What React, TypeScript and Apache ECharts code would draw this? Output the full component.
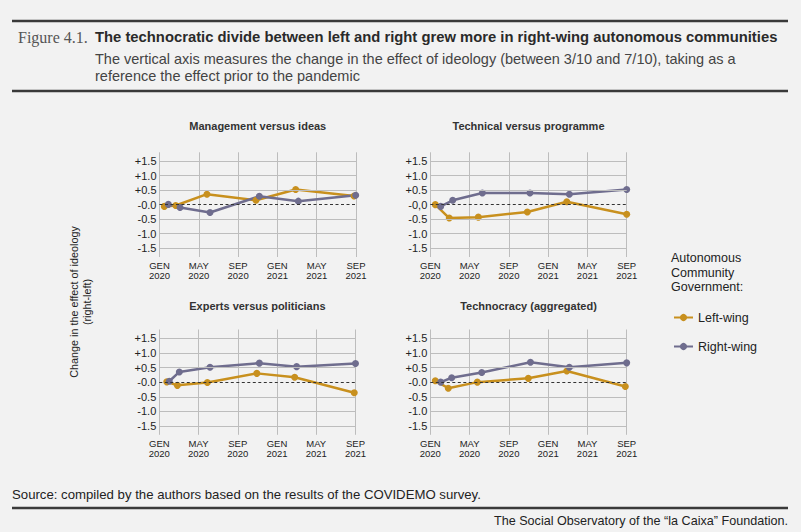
import React, { useEffect, useRef } from "react";
import * as echarts from "echarts";

// ---- data (x = months since January 2020, y = change in effect of ideology) ----
const panelTitles = [
  "Management versus ideas",
  "Technical versus programme",
  "Experts versus politicians",
  "Technocracy (aggregated)",
];

const leftWingX = [
  [0.49, 1.65, 4.83, 9.82, 13.86, 19.8],
  [0.51, 1.93, 4.89, 9.88, 13.9, 20.0],
  [0.76, 1.84, 4.9, 9.94, 13.8, 19.87],
  [0.51, 1.83, 4.79, 9.98, 13.9, 19.86],
];
const leftWingY = [
  [-0.06, -0.03, 0.36, 0.15, 0.52, 0.3],
  [0.0, -0.46, -0.43, -0.25, 0.1, -0.33],
  [0.01, -0.11, -0.01, 0.3, 0.17, -0.36],
  [0.05, -0.21, 0.0, 0.13, 0.38, -0.15],
];
const rightWingX = [
  [0.9, 2.09, 5.14, 10.16, 14.13, 19.97],
  [1.06, 2.28, 5.3, 10.15, 14.16, 20.0],
  [1.02, 2.04, 5.17, 10.2, 14.0, 20.0],
  [1.06, 2.18, 5.24, 10.2, 14.16, 20.0],
];
const rightWingY = [
  [0.01, -0.1, -0.27, 0.29, 0.12, 0.32],
  [-0.06, 0.15, 0.4, 0.4, 0.36, 0.52],
  [0.03, 0.35, 0.51, 0.65, 0.53, 0.64],
  [0.0, 0.15, 0.33, 0.68, 0.51, 0.66],
];

const xTickLabels = ["GEN\n2020", "MAY\n2020", "SEP\n2020", "GEN\n2021", "MAY\n2021", "SEP\n2021"];
const yTickValues = [-1.5, -1.0, -0.5, 0, 0.5, 1.0, 1.5];
const yTickLabels = [
  ["-1.5", "-1.0", "-0.5", "-0.0", "+0.5", "+1.0", "+1.5"],
  ["-1.5", "-1.0", "-0.5", "-0,0", "+0.5", "+1.0", "+1.5"],
  ["-1.5", "-1.0", "-0.5", "-0.0", "+0.5", "+1.0", "+1.5"],
  ["-1.5", "-1.0", "-0.5", "-0.0", "+0.5", "+1.0", "+1.5"],
];

// ---- layout ----
const LEFT_COLOR = "#c8901e";
const RIGHT_COLOR = "#6f6d8e";
const GRID_COLOR = "#bdbdbd";
const grids = [
  { left: 159.5, top: 152.3, width: 196.5, height: 104.7 },
  { left: 430.3, top: 152.3, width: 196.4, height: 104.7 },
  { left: 159.3, top: 329.5, width: 196.2, height: 105.3 },
  { left: 430.3, top: 329.5, width: 196.4, height: 105.3 },
];
const titleY = [126, 126, 306, 306];
const SANS = "'Liberation Sans', Arial, sans-serif";

export default function App() {
  const ref = useRef<HTMLDivElement>(null);

  useEffect(() => {
    if (!ref.current) return;
    const chart = echarts.init(ref.current, undefined, { renderer: "svg" });

    const xAxis: any[] = [];
    const yAxis: any[] = [];
    const series: any[] = [];
    const graphic: any[] = [];

    grids.forEach((g, i) => {
      xAxis.push({
        type: "value",
        gridIndex: i,
        min: 0,
        max: 20,
        interval: 4,
        axisLine: { show: false },
        axisTick: { show: false },
        splitLine: { show: true, lineStyle: { color: GRID_COLOR, width: 1 } },
        axisLabel: {
          margin: 4,
          fontSize: 9.5,
          lineHeight: 9.5,
          color: "#222",
          fontFamily: SANS,
          formatter: (v: number) => xTickLabels[Math.round(v / 4)] ?? "",
        },
      });
      yAxis.push({
        type: "value",
        gridIndex: i,
        min: -1.8,
        max: 1.8,
        axisLine: { show: false },
        axisTick: { show: false },
        splitLine: { show: false },
        axisLabel: {
          customValues: yTickValues,
          margin: 3,
          fontSize: 11,
          color: "#222",
          fontFamily: SANS,
          formatter: (v: number) => {
            const k = yTickValues.findIndex((t) => Math.abs(t - v) < 1e-6);
            return k >= 0 ? yTickLabels[i][k] : "";
          },
        },
      });
      // horizontal reference lines
      series.push({
        type: "line",
        name: "grid" + i,
        xAxisIndex: i,
        yAxisIndex: i,
        data: [],
        z: 1,
        silent: true,
        markLine: {
          silent: true,
          symbol: "none",
          label: { show: false },
          animation: false,
          data: yTickValues.map((v) =>
            v === 0
              ? { yAxis: v, lineStyle: { color: "#333", type: [3, 2.5], width: 1 } }
              : { yAxis: v, lineStyle: { color: GRID_COLOR, type: "solid", width: 1 } }
          ),
        },
      });
      series.push({
        type: "line",
        name: "Left-wing",
        xAxisIndex: i,
        yAxisIndex: i,
        data: leftWingX[i].map((x, k) => [x, leftWingY[i][k]]),
        color: LEFT_COLOR,
        lineStyle: { width: 2.5, color: LEFT_COLOR },
        itemStyle: { color: LEFT_COLOR },
        symbol: "circle",
        symbolSize: 7,
        z: 3,
      });
      series.push({
        type: "line",
        name: "Right-wing",
        xAxisIndex: i,
        yAxisIndex: i,
        data: rightWingX[i].map((x, k) => [x, rightWingY[i][k]]),
        color: RIGHT_COLOR,
        lineStyle: { width: 2.5, color: RIGHT_COLOR },
        itemStyle: { color: RIGHT_COLOR },
        symbol: "circle",
        symbolSize: 7,
        z: 3,
      });
      graphic.push({
        type: "text",
        x: g.left + g.width / 2,
        y: titleY[i],
        style: {
          text: panelTitles[i],
          fill: "#333",
          font: `bold 11px ${SANS}`,
          textAlign: "center",
          textVerticalAlign: "middle",
        },
      });
    });

    const hline = (y: number) => ({
      type: "line",
      shape: { x1: 12, y1: y, x2: 788, y2: y },
      style: { stroke: "#3a3a3a", lineWidth: 2.5 },
    });

    graphic.push(
      hline(21),
      hline(91),
      hline(508),
      {
        type: "text",
        x: 18,
        y: 37,
        style: {
          text: "Figure 4.1.",
          fill: "#555",
          font: "16px 'Liberation Serif', 'DejaVu Serif', serif",
          textVerticalAlign: "middle",
        },
      },
      {
        type: "text",
        x: 95,
        y: 37,
        style: {
          text: "The technocratic divide between left and right grew more in right-wing autonomous communities",
          fill: "#2a2a2a",
          font: `bold 14.8px ${SANS}`,
          textVerticalAlign: "middle",
        },
      },
      {
        type: "text",
        x: 95,
        y: 51,
        style: {
          text:
            "The vertical axis measures the change in the effect of ideology (between 3/10 and 7/10), taking as a\nreference the effect prior to the pandemic",
          fill: "#444",
          font: `14.5px ${SANS}`,
          lineHeight: 16.5,
          textVerticalAlign: "top",
        },
      },
      {
        type: "text",
        x: 80,
        y: 302,
        rotation: Math.PI / 2,
        style: {
          text: "Change in the effect of ideology\n(right-left)",
          fill: "#222",
          font: `10.8px ${SANS}`,
          lineHeight: 13,
          textAlign: "center",
          textVerticalAlign: "middle",
        },
      },
      {
        type: "text",
        x: 671,
        y: 251,
        style: {
          text: "Autonomous\nCommunity\nGovernment:",
          fill: "#222",
          font: `12.5px ${SANS}`,
          lineHeight: 14.5,
          textVerticalAlign: "top",
        },
      },
      {
        type: "text",
        x: 12,
        y: 494,
        style: {
          text: "Source: compiled by the authors based on the results of the COVIDEMO survey.",
          fill: "#222",
          font: `13.2px ${SANS}`,
          textVerticalAlign: "middle",
        },
      },
      {
        type: "text",
        x: 788,
        y: 521,
        style: {
          text: "The Social Observatory of the \u201cla Caixa\u201d Foundation.",
          fill: "#222",
          font: `12.6px ${SANS}`,
          textAlign: "right",
          textVerticalAlign: "middle",
        },
      }
    );

    chart.setOption({
      animation: false,
      backgroundColor: "#f2f2f2",
      grid: grids.map((g) => ({ ...g, containLabel: false })),
      xAxis,
      yAxis,
      series,
      legend: {
        data: ["Left-wing", "Right-wing"],
        orient: "vertical",
        left: 668,
        top: 306,
        itemWidth: 19,
        itemHeight: 9,
        itemGap: 16,
        selectedMode: false,
        textStyle: { fontSize: 12.5, color: "#222", fontFamily: SANS },
      },
      graphic,
    });

    return () => chart.dispose();
  }, []);

  return (
    <div
      ref={ref}
      style={{ position: "absolute", left: 0, top: 0, width: 801, height: 532 }}
    />
  );
}
